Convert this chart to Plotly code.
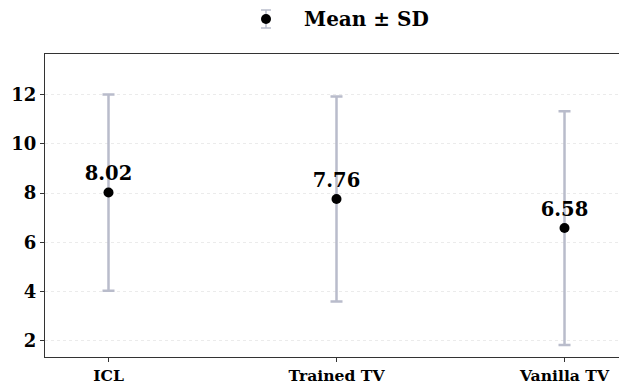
import plotly.graph_objects as go

# Method scores: mean and standard deviation per method
methods = ["ICL", "Trained TV", "Vanilla TV"]
means = [8.02, 7.76, 6.58]
sds = [3.98, 4.16, 4.74]
y_ticks = [2, 4, 6, 8, 10, 12]

FONT = "DejaVu Serif"
ERR_COLOR = "#b9bccb"

W, H = 619, 384
M_L, M_R, M_T, M_B = 45, 0, 54, 27
PW, PH = W - M_L - M_R, H - M_T - M_B

fig = go.Figure()
fig.add_trace(go.Scatter(
    x=list(range(len(methods))),
    y=means,
    mode="markers+text",
    marker=dict(color="black", size=10),
    error_y=dict(type="data", array=sds, visible=True,
                 color=ERR_COLOR, thickness=2.5, width=6),
    text=[f"{m:.2f}" for m in means],
    textposition="top center",
    textfont=dict(family=FONT, size=19.5, color="black", weight="bold"),
    showlegend=False,
    cliponaxis=False,
))

# Legend glyph above the plot: mean dot with SD whisker, plus its label
lx, ly = 266, 19
def px(x):
    return (x - M_L) / PW
def py(y):
    return (H - M_B - y) / PH

shapes = [
    dict(type="line", xref="paper", yref="paper",
         x0=px(lx), x1=px(lx), y0=py(ly - 9), y1=py(ly + 9),
         line=dict(color=ERR_COLOR, width=1.5)),
    dict(type="line", xref="paper", yref="paper",
         x0=px(lx - 5), x1=px(lx + 5), y0=py(ly - 9), y1=py(ly - 9),
         line=dict(color=ERR_COLOR, width=1.5)),
    dict(type="line", xref="paper", yref="paper",
         x0=px(lx - 5), x1=px(lx + 5), y0=py(ly + 9), y1=py(ly + 9),
         line=dict(color=ERR_COLOR, width=1.5)),
    dict(type="circle", xref="paper", yref="paper",
         x0=px(lx - 5), x1=px(lx + 5), y0=py(ly + 5), y1=py(ly - 5),
         fillcolor="black", line=dict(color="black", width=0)),
]

annotations = [
    dict(text="Mean ± SD", xref="paper", yref="paper",
         x=px(302), y=py(ly), xanchor="left", yanchor="middle",
         showarrow=False,
         font=dict(family=FONT, size=20, color="black", weight="bold")),
]

fig.update_layout(
    width=W, height=H,
    margin=dict(l=M_L, r=M_R, t=M_T, b=M_B),
    paper_bgcolor="white", plot_bgcolor="white",
    shapes=shapes, annotations=annotations,
    showlegend=False,
)
fig.update_xaxes(
    range=[-0.2785, 2.239],
    tickvals=list(range(len(methods))), ticktext=methods,
    tickfont=dict(family=FONT, size=15.6, color="black", weight="bold"),
    showline=True, linecolor="#333333", linewidth=1, mirror=True,
    ticks="outside", ticklen=4, tickcolor="#333333",
    showgrid=False, zeroline=False,
)
fig.update_yaxes(
    range=[1.35, 13.64],
    tickvals=y_ticks,
    tickfont=dict(family=FONT, size=18, color="black", weight="bold"),
    showline=True, linecolor="#333333", linewidth=1, mirror=False,
    ticks="outside", ticklen=4, tickcolor="#333333",
    showgrid=True, gridcolor="#ebebeb", gridwidth=1, griddash="dot",
    zeroline=False,
)

fig.write_html("out.html")
